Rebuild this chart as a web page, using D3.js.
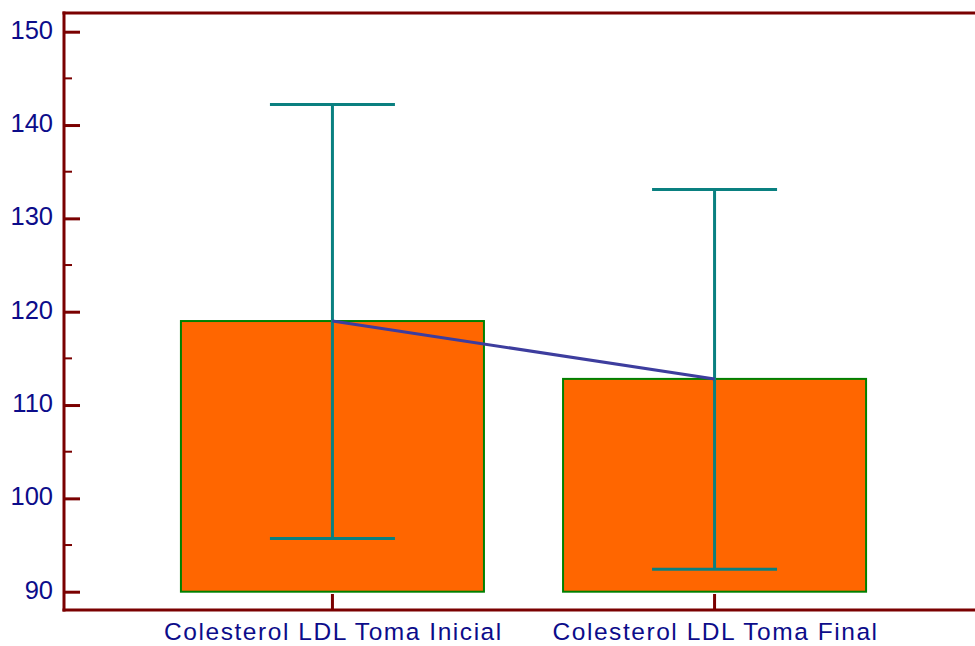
<!DOCTYPE html>
<html>
<head>
<meta charset="utf-8">
<script src="https://cdn.jsdelivr.net/npm/d3@7"></script>
<style>
  html, body { margin: 0; padding: 0; background: #fff; }
  svg { display: block; }
</style>
</head>
<body>
<svg id="chart" width="975" height="646"></svg>
<script>
// Group labels and summary statistics (mean with low/high error limits)
const categories = ["Colesterol LDL Toma Inicial", "Colesterol LDL Toma Final"];
const means = [119.0, 112.8];
const lowers = [95.7, 92.4];
const uppers = [142.2, 133.1];
const yTicks = [90, 100, 110, 120, 130, 140, 150];
const yMinorTicks = [95, 105, 115, 125, 135, 145];

const svg = d3.select("#chart");
const plotLeft = 64, plotRight = 983, plotTop = 13, plotBottom = 610;

const x = d3.scaleBand()
  .domain(categories)
  .range([plotLeft, plotRight])
  .paddingInner(0.207)
  .paddingOuter(0.306);

const y = d3.scaleLinear()
  .domain([90, 150])
  .range([591.7, 31.7]);

const axisColor = "#7a0000";
const textColor = "#0c0c8a";
const font = "'Liberation Sans', Arial, sans-serif";

// Bars from the baseline value 90 up to the mean
svg.append("g").selectAll("rect")
  .data(categories)
  .join("rect")
  .attr("x", d => x(d))
  .attr("width", x.bandwidth())
  .attr("y", (d, i) => y(means[i]))
  .attr("height", (d, i) => y(90) - y(means[i]))
  .attr("fill", "#ff6600")
  .attr("stroke", "#008000")
  .attr("stroke-width", 2);

// Error bars
const cx = d => x(d) + x.bandwidth() / 2;
const capHalf = 62.5;
const err = svg.append("g").attr("stroke", "#0a8080").attr("stroke-width", 3).attr("fill", "none");
categories.forEach((c, i) => {
  err.append("line").attr("x1", cx(c)).attr("x2", cx(c)).attr("y1", y(lowers[i])).attr("y2", y(uppers[i]));
  err.append("line").attr("x1", cx(c) - capHalf).attr("x2", cx(c) + capHalf).attr("y1", y(uppers[i])).attr("y2", y(uppers[i]));
  err.append("line").attr("x1", cx(c) - capHalf).attr("x2", cx(c) + capHalf).attr("y1", y(lowers[i])).attr("y2", y(lowers[i]));
});

// Line connecting the means
svg.append("path")
  .datum(categories)
  .attr("d", d3.line().x(d => cx(d)).y((d, i) => y(means[i])))
  .attr("fill", "none")
  .attr("stroke", "#3d3d9e")
  .attr("stroke-width", 3);

// Frame: top border
svg.append("line").attr("x1", plotLeft - 1.5).attr("x2", 975).attr("y1", plotTop).attr("y2", plotTop)
  .attr("stroke", axisColor).attr("stroke-width", 3);

// Y axis with major ticks pointing inward
const yAxis = svg.append("g")
  .attr("transform", `translate(${plotLeft},0)`)
  .call(d3.axisRight(y).tickValues(yTicks).tickSize(16).tickFormat(d3.format("d")));
yAxis.select(".domain").remove();
yAxis.selectAll(".tick line").attr("stroke", axisColor).attr("stroke-width", 3);
yAxis.selectAll(".tick text")
  .attr("x", -11).attr("text-anchor", "end").attr("dy", "6.6px")
  .attr("fill", textColor).style("font-family", font).style("font-size", "25.5px");

// Minor y ticks
svg.append("g").selectAll("line")
  .data(yMinorTicks)
  .join("line")
  .attr("x1", plotLeft).attr("x2", plotLeft + 8)
  .attr("y1", d => y(d)).attr("y2", d => y(d))
  .attr("stroke", axisColor).attr("stroke-width", 2);

svg.append("line").attr("x1", plotLeft).attr("x2", plotLeft).attr("y1", plotTop - 1.5).attr("y2", plotBottom + 1.5)
  .attr("stroke", axisColor).attr("stroke-width", 3);

// X axis with ticks pointing up into the plot
const xAxis = svg.append("g")
  .attr("transform", `translate(0,${plotBottom})`)
  .call(d3.axisBottom(x).tickSize(-16));
xAxis.select(".domain").remove();
xAxis.selectAll(".tick line").attr("stroke", axisColor).attr("stroke-width", 3);
xAxis.selectAll(".tick text")
  .attr("y", 30).attr("dy", "0").attr("dx", "1px")
  .attr("fill", textColor).style("font-family", font).style("font-size", "24.5px")
  .style("letter-spacing", "1.55px");

svg.append("line").attr("x1", plotLeft - 1.5).attr("x2", 975).attr("y1", plotBottom).attr("y2", plotBottom)
  .attr("stroke", axisColor).attr("stroke-width", 3);
</script>
</body>
</html>
